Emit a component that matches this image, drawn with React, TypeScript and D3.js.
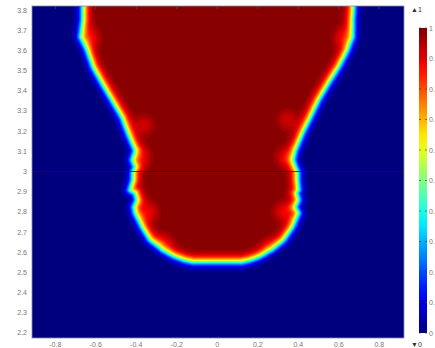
import { useMemo } from 'react';
import * as d3 from 'd3';

// axis ticks
const xTicks = [-0.8, -0.6, -0.4, -0.2, 0, 0.2, 0.4, 0.6, 0.8];
const yTicks = [2.2, 2.3, 2.4, 2.5, 2.6, 2.7, 2.8, 2.9, 3, 3.1, 3.2, 3.3, 3.4, 3.5, 3.6, 3.7, 3.8];
const barTicks = [0, 0.1, 0.2, 0.3, 0.4, 0.5, 0.6, 0.7, 0.8, 0.9, 1];

// interface (value 0.5), top to bottom
const edgeY = [3.95, 3.82, 3.75, 3.666, 3.602, 3.518, 3.438, 3.354, 3.27, 3.191, 3.106, 3.057, 3.022, 2.998, 2.958, 2.908, 2.894, 2.859, 2.824, 2.794, 2.725, 2.661, 2.611, 2.58, 2.562];
const leftX = [-0.662, -0.662, -0.662, -0.675, -0.642, -0.612, -0.568, -0.519, -0.47, -0.44, -0.405, -0.42, -0.405, -0.415, -0.415, -0.43, -0.405, -0.395, -0.41, -0.405, -0.37, -0.331, -0.272, -0.21, -0.16];
const rightX = [0.672, 0.672, 0.667, 0.668, 0.642, 0.598, 0.548, 0.499, 0.459, 0.42, 0.385, 0.375, 0.385, 0.395, 0.395, 0.4, 0.39, 0.4, 0.385, 0.4, 0.37, 0.326, 0.272, 0.21, 0.16];
// flat bottom of the shape
const bottomX = [-0.12, 0.12];
const bottomY = 2.553;

// lighter red patches just inside the interface
const patchX = [-0.627, 0.622, -0.36, 0.346, -0.375, 0.336, -0.34, 0.326, -0.267, 0.262];
const patchY = [3.666, 3.666, 3.23, 3.255, 3.07, 3.07, 2.8, 2.8, 2.646, 2.62];
const patchDepth = [0.1, 0.1, 0.08, 0.08, 0.09, 0.09, 0.1, 0.1, 0.09, 0.09];

const W = 435;
const H = 348;
const plot = { left: 32, right: 404, top: 6, bottom: 338 };
const bar = { left: 419, right: 427, top: 28, bottom: 333 };
const cell = 2;

const jet = d3
  .scaleLinear<string>()
  .domain([0, 0.125, 0.375, 0.625, 0.875, 1])
  .range(['#00007f', '#0000ff', '#00ffff', '#ffff00', '#ff0000', '#7f0000'])
  .interpolate(d3.interpolateRgb)
  .clamp(true);

function segDist(px: number, py: number, a: [number, number], b: [number, number]) {
  const dx = b[0] - a[0];
  const dy = b[1] - a[1];
  const len = dx * dx + dy * dy;
  let t = len ? ((px - a[0]) * dx + (py - a[1]) * dy) / len : 0;
  t = Math.max(0, Math.min(1, t));
  const qx = a[0] + t * dx - px;
  const qy = a[1] + t * dy - py;
  return Math.sqrt(qx * qx + qy * qy);
}

export default function App() {
  const x = d3.scaleLinear().domain([-0.915, 0.922]).range([plot.left, plot.right]);
  const y = d3.scaleLinear().domain([2.175, 3.82]).range([plot.bottom, plot.top]);
  const yBar = d3.scaleLinear().domain([0, 1]).range([bar.bottom, bar.top]);

  const bands = useMemo(() => {
    const poly: [number, number][] = [];
    edgeY.forEach((v, i) => poly.push([x(leftX[i]), y(v)]));
    bottomX.forEach((v) => poly.push([x(v), y(bottomY)]));
    for (let i = edgeY.length - 1; i >= 0; i--) poly.push([x(rightX[i]), y(edgeY[i])]);

    const nx = Math.round((plot.right - plot.left) / cell);
    const ny = Math.round((plot.bottom - plot.top) / cell);
    const values = new Float64Array(nx * ny);
    const epsIn = 6;
    const epsOut = 4.8;
    const sig2 = 2 * 7 * 7;
    for (let j = 0; j < ny; j++) {
      const py = plot.top + (j + 0.5) * cell;
      for (let i = 0; i < nx; i++) {
        const px = plot.left + (i + 0.5) * cell;
        let d = Infinity;
        for (let k = 0; k < poly.length; k++) {
          const dd = segDist(px, py, poly[k], poly[(k + 1) % poly.length]);
          if (dd < d) d = dd;
        }
        const inside = d3.polygonContains(poly, [px, py]);
        let v = inside ? 0.5 + 0.5 * Math.tanh(d / epsIn) : 0.5 - 0.5 * Math.tanh(d / epsOut);
        for (let p = 0; p < patchX.length; p++) {
          const ex = px - x(patchX[p]);
          const ey = py - y(patchY[p]);
          v -= patchDepth[p] * Math.exp(-(ex * ex + ey * ey) / sig2);
        }
        values[j * nx + i] = Math.max(0, v);
      }
    }
    const thresholds = d3.range(0.02, 1, 0.02);
    const contours = d3.contours().size([nx, ny]).thresholds(thresholds)(Array.from(values));
    const path = d3.geoPath(d3.geoIdentity().scale(cell).translate([plot.left, plot.top]));
    return contours.map((c) => ({ d: path(c) || '', fill: jet(c.value + 0.01) }));
  }, []);

  const gradStops = d3.range(0, 1.0001, 0.05);
  const font = 'Liberation Sans, Arial, sans-serif';

  return (
    <svg width={W} height={H} style={{ position: 'absolute', left: 0, top: 0, background: '#fff' }} fontFamily={font}>
      <defs>
        <clipPath id="plotClip">
          <rect x={plot.left} y={plot.top} width={plot.right - plot.left} height={plot.bottom - plot.top} />
        </clipPath>
        <linearGradient id="jetGrad" x1="0" y1="1" x2="0" y2="0">
          {gradStops.map((s) => (
            <stop key={s} offset={s} stopColor={jet(s)} />
          ))}
        </linearGradient>
      </defs>

      <g clipPath="url(#plotClip)">
        <rect x={plot.left} y={plot.top} width={plot.right - plot.left} height={plot.bottom - plot.top} fill={jet(0)} />
        {bands.map((b, i) => (
          <path key={i} d={b.d} fill={b.fill} />
        ))}
        <line x1={plot.left} x2={plot.right} y1={y(3)} y2={y(3)} stroke="#1a1a1a" strokeWidth={1} opacity={0.75} />
      </g>
      <rect x={plot.left} y={plot.top} width={plot.right - plot.left} height={plot.bottom - plot.top} fill="none" stroke="#8a8aa0" strokeWidth={0.8} />

      {xTicks.map((t) => (
        <g key={t}>
          <line x1={x(t)} x2={x(t)} y1={plot.top} y2={plot.top + 3} stroke="#555" strokeWidth={0.7} />
          <text x={x(t)} y={346.5} textAnchor="middle" fontSize={7} fill="#777">
            {t === 0 ? '0' : t.toFixed(1)}
          </text>
        </g>
      ))}
      {yTicks.map((t) => (
        <text key={t} x={27} y={y(t) + 2.5} textAnchor="end" fontSize={7} fill="#777">
          {t === 3 ? '3' : t.toFixed(1)}
        </text>
      ))}

      <rect x={bar.left} y={bar.top} width={bar.right - bar.left} height={bar.bottom - bar.top} fill="url(#jetGrad)" />
      {barTicks.map((t) => (
        <g key={t}>
          <line x1={bar.left} x2={bar.left + 2} y1={yBar(t)} y2={yBar(t)} stroke="#333" strokeWidth={0.6} />
          <line x1={bar.right - 2} x2={bar.right} y1={yBar(t)} y2={yBar(t)} stroke="#333" strokeWidth={0.6} />
          <text x={429} y={yBar(t) + 2.5} fontSize={7} fill="#777">
            {t === 0 || t === 1 ? String(t) : t.toFixed(1)}
          </text>
        </g>
      ))}
      <text x={411} y={12} fontSize={7} fill="#333">▲1</text>
      <text x={411} y={346.5} fontSize={7} fill="#333">▼0</text>
    </svg>
  );
}
